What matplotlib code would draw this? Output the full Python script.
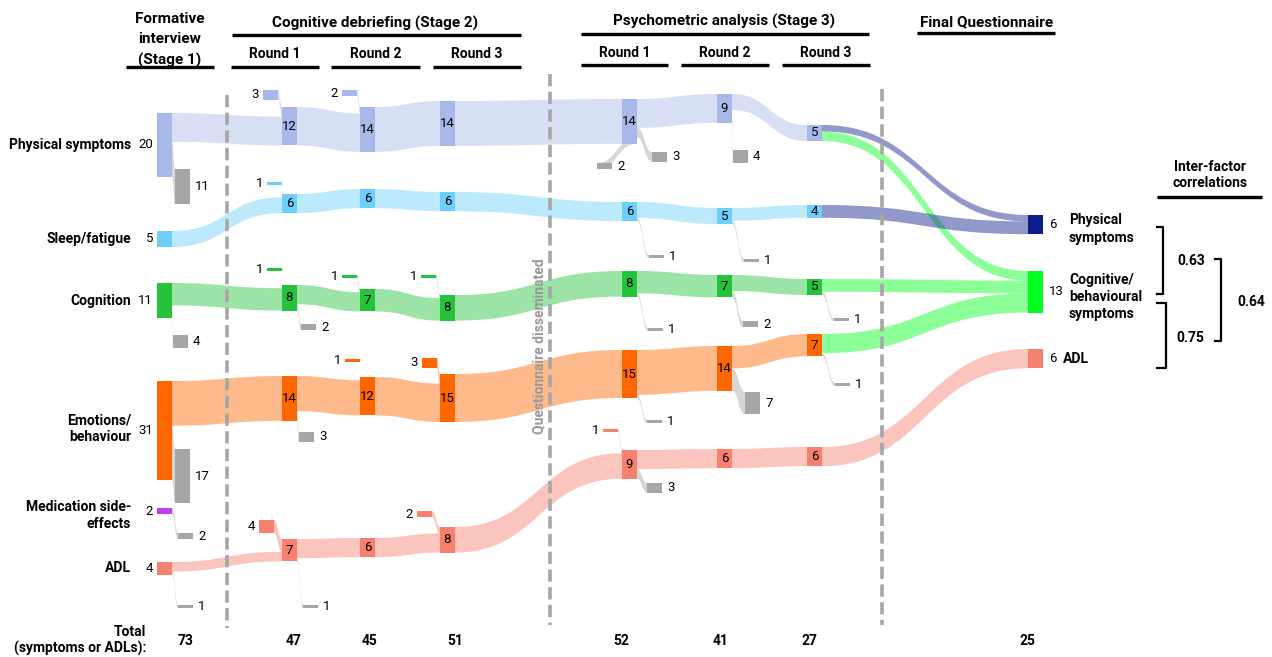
import matplotlib.pyplot as plt
from matplotlib.patches import Rectangle, PathPatch
from matplotlib.path import Path

plt.rcParams['font.family'] = ['Roboto', 'DejaVu Sans']

# ---------------- data ----------------
categories = ['Physical symptoms', 'Sleep/fatigue', 'Cognition',
              'Emotions/\nbehaviour', 'Medication side-\neffects', 'ADL']

# items in each category at each stage
# (formative, CD round 1-3, PA round 1-3)
physical = [20, 12, 14, 14, 14, 9, 5]
sleep = [5, 6, 6, 6, 6, 5, 4]
cognition = [11, 8, 7, 8, 8, 7, 5]
emotions = [31, 14, 12, 15, 15, 14, 7]
medication = [2]
adl = [4, 7, 6, 8, 9, 6, 6]

# items added at each stage
physical_added = [0, 3, 2, 0, 0, 0, 0]
sleep_added = [0, 1, 0, 0, 0, 0, 0]
cognition_added = [0, 1, 1, 1, 0, 0, 0]
emotions_added = [0, 0, 1, 3, 0, 0, 0]
medication_added = [0]
adl_added = [0, 4, 0, 2, 1, 0, 0]

# items removed after each stage
physical_removed = [[11], [], [], [], [3, 2], [4], []]
sleep_removed = [[], [], [], [], [1], [1], []]
cognition_removed = [[4], [2], [], [], [1], [2], [1]]
emotions_removed = [[17], [3], [], [], [1], [7], [1]]
medication_removed = [[2]]
adl_removed = [[1], [1], [], [], [3], [], []]

final_factors = ['Physical\nsymptoms', 'Cognitive/\nbehavioural\nsymptoms', 'ADL']
final_values = [6, 13, 6]
# (category, final factor, items)
final_flows = [(0, 0, 2), (0, 1, 3), (1, 0, 4), (2, 1, 4), (3, 1, 6), (5, 2, 6)]

correlations = [0.63, 0.75, 0.64]

series = [physical, sleep, cognition, emotions, medication, adl]
added = [physical_added, sleep_added, cognition_added, emotions_added,
         medication_added, adl_added]
removed = [physical_removed, sleep_removed, cognition_removed,
           emotions_removed, medication_removed, adl_removed]

# ---------------- layout (pixels) ----------------
K = 3.2   # px per item
W = 15    # node width
col_x = [157, 282, 360, 440, 622, 717, 807]
final_x = 1028
final_top = [215, 271, 349]
final_label_y = [229, 297, 359]
label_shift = [0, 0, 0, -2, 4, 0]

node_top = [
    [113, 107, 107, 101, 99, 94, 125],
    [231, 194, 189, 192, 202, 208, 205],
    [283, 285, 289, 295, 271, 275, 279],
    [381, 376, 377, 374, 350, 346, 334],
    [508],
    [562, 539, 538, 527, 450, 449, 447],
]
added_pos = [
    {1: (263, 90), 2: (342, 90)},
    {1: (267, 182)},
    {1: (267, 268), 2: (342, 275), 3: (421, 275)},
    {2: (345, 359), 3: (422, 358)},
    {},
    {1: (259, 520), 3: (417, 511), 4: (603, 429)},
]
removed_pos = [
    {0: [(175, 169)], 4: [(652, 152), (597, 163)], 5: [(733, 150)]},
    {4: [(649, 255)], 5: [(744, 259)]},
    {0: [(173, 335)], 1: [(301, 324)], 4: [(648, 328)], 5: [(743, 321)], 6: [(834, 318)]},
    {0: [(175, 449)], 1: [(299, 432)], 4: [(647, 420)], 5: [(745, 392)], 6: [(835, 383)]},
    {0: [(178, 533)]},
    {0: [(178, 605)], 1: [(303, 605)], 4: [(647, 483)]},
]

colors = ['#a8b8e8', '#6dd0fb', '#25c23b', '#ff6600', '#c23cf2', '#f8806f']
final_colors = ['#0b1e8c', '#00ff1e', '#f8806f']
gray = '#a6a6a6'
LINK_ALPHA = 0.45

fig = plt.figure(figsize=(12.72, 6.57), dpi=100)
ax = fig.add_axes([0, 0, 1, 1])
ax.set_xlim(0, 1272)
ax.set_ylim(657, 0)
ax.axis('off')


def band(x0, y0a, y0b, x1, y1a, y1b, color):
    xm = (x0 + x1) / 2
    verts = [(x0, y0a), (xm, y0a), (xm, y1a), (x1, y1a),
             (x1, y1b), (xm, y1b), (xm, y0b), (x0, y0b), (x0, y0a)]
    codes = [Path.MOVETO, Path.CURVE4, Path.CURVE4, Path.CURVE4,
             Path.LINETO, Path.CURVE4, Path.CURVE4, Path.CURVE4, Path.CLOSEPOLY]
    ax.add_patch(PathPatch(Path(verts, codes), facecolor=color, edgecolor='none',
                           alpha=LINK_ALPHA, zorder=1))


def node(x, y, v, color):
    ax.add_patch(Rectangle((x, y), W, v * K, facecolor=color, edgecolor='none', zorder=3))


NUM = 9.5
LBL = 10
for c, vals in enumerate(series):
    col = colors[c]
    for s, v in enumerate(vals):
        x, top = col_x[s], node_top[c][s]
        node(x, top, v, col)
        if s == 0:
            ax.text(x - 4, top + v * K / 2, str(v), ha='right', va='center', fontsize=NUM, zorder=4)
        else:
            ax.text(x + W / 2, top + v * K / 2, str(v), ha='center', va='center', fontsize=NUM, zorder=4)
        a = added[c][s]
        if a:
            px, py = added_pos[c][s]
            band(px + W, py, py + a * K, x, top, top + a * K, col)
            node(px, py, a, col)
            ax.text(px - 4, py + a * K / 2, str(a), ha='right', va='center', fontsize=NUM)
        cont = v - sum(removed[c][s])
        y = top + cont * K
        for r, (rx, ry) in zip(removed[c][s], removed_pos[c].get(s, [])):
            band(x + W, y, y + r * K, rx, ry, ry + r * K, gray)
            node(rx, ry, r, gray)
            ax.text(rx + W + 5, ry + r * K / 2, str(r), ha='left', va='center', fontsize=NUM)
            y += r * K
        if s + 1 < len(vals):
            nt = node_top[c][s + 1] + added[c][s + 1] * K
            band(x + W, top, top + cont * K, col_x[s + 1], nt, nt + cont * K, col)

# flows into the final questionnaire
out_off = {c: node_top[c][6] for c in range(len(series)) if len(series[c]) == 7}
in_off = list(final_top)
for c, f, v in final_flows:
    band(col_x[6] + W, out_off[c], out_off[c] + v * K,
         final_x, in_off[f], in_off[f] + v * K, final_colors[f])
    out_off[c] += v * K
    in_off[f] += v * K
for f, v in enumerate(final_values):
    node(final_x, final_top[f], v, final_colors[f])
    ax.text(final_x + W + 6, final_top[f] + v * K / 2, str(v), ha='left', va='center', fontsize=NUM)
    ax.text(final_x + W + (20 if f == 2 else 26), final_label_y[f], final_factors[f],
            ha='left', va='center', fontsize=LBL, fontweight='bold', linespacing=1.3)

# category labels
for c, name in enumerate(categories):
    ax.text(131, node_top[c][0] + series[c][0] * K / 2 + label_shift[c], name,
            ha='right', va='center', fontsize=LBL, fontweight='bold',
            multialignment='right', linespacing=1.25)

# totals
total_x = [186, 294, 369, 455, 621, 721, 809]
totals = [sum(sr[s] for sr in series if len(sr) > s) for s in range(7)]
for tx, t in zip(total_x, totals):
    ax.text(tx, 641, str(t), ha='center', va='center', fontsize=LBL, fontweight='bold')
ax.text(1027, 641, str(sum(final_values)), ha='center', va='center', fontsize=LBL, fontweight='bold')
ax.text(146, 632, 'Total', ha='right', va='center', fontsize=LBL, fontweight='bold')
ax.text(146, 648, '(symptoms or ADLs):', ha='right', va='center', fontsize=LBL, fontweight='bold')

# dashed separators
for dx, y0, y1 in [(227, 95, 628), (550, 74, 625), (882, 89, 625)]:
    ax.plot([dx, dx], [y0, y1], color=gray, lw=2.6, ls=(0, (3.4, 1.5)), zorder=2,
            solid_capstyle='butt')
ax.text(539, 346, 'Questionnaire disseminated', rotation=90, ha='center', va='center',
        fontsize=10, fontweight='bold', color='#999999')

# headers
HDR = 11


def underline(x0, x1, y):
    ax.plot([x0, x1], [y, y], color='black', lw=2.4, solid_capstyle='butt')


ax.text(170, 40, 'Formative\ninterview\n(Stage 1)', ha='center', va='center',
        fontsize=HDR, fontweight='bold', linespacing=1.55)
underline(126, 214, 67)
ax.text(375, 23, 'Cognitive debriefing (Stage 2)', ha='center', va='center',
        fontsize=HDR, fontweight='bold')
underline(232, 521, 35)
ax.text(724, 21, 'Psychometric analysis (Stage 3)', ha='center', va='center',
        fontsize=HDR, fontweight='bold')
underline(581, 869, 34)
round_spans = [(231, 319, 54, 67), (331, 420, 54, 67), (433, 521, 54, 67),
               (581, 668, 53, 65), (681, 769, 53, 65), (782, 870, 53, 65)]
for i, (x0, x1, ly, uy) in enumerate(round_spans):
    ax.text((x0 + x1) / 2, ly, 'Round %d' % (i % 3 + 1), ha='center', va='center',
            fontsize=LBL, fontweight='bold')
    underline(x0, x1, uy)
ax.text(987, 22, 'Final Questionnaire', ha='center', va='center', fontsize=HDR, fontweight='bold')
underline(917, 1055, 33)
ax.text(1210, 175, 'Inter-factor\ncorrelations', ha='center', va='center',
        fontsize=LBL, fontweight='bold', linespacing=1.25)
underline(1157, 1262, 197)

# correlation brackets
brackets = [(1163, 1157, 227, 294, 1191, 261),
            (1166, 1157, 303, 368, 1190, 338),
            (1221, 1215, 259, 341, 1251, 302)]
for (bx, tx0, y0, y1, lx, lyy), r in zip(brackets, correlations):
    ax.plot([tx0, bx, bx, tx0], [y0, y0, y1, y1], color='black', lw=1.6)
    ax.text(lx, lyy, '%.2f' % r, ha='center', va='center', fontsize=LBL, fontweight='bold')

fig.savefig('out.png', dpi=100)
